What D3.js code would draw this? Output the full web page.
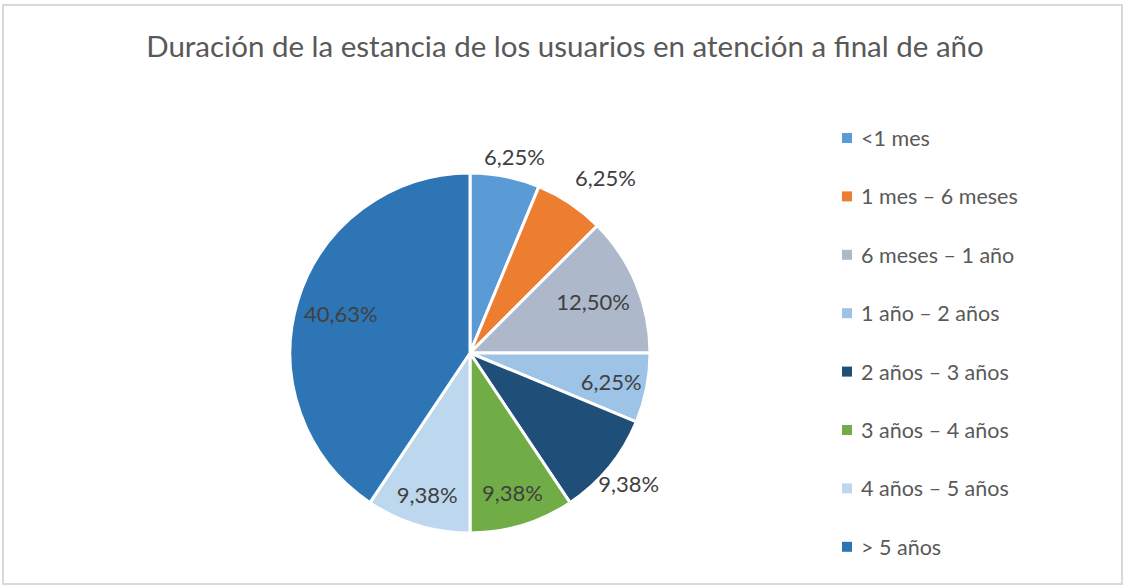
<!DOCTYPE html>
<html>
<head>
<meta charset="utf-8">
<script src="https://cdn.jsdelivr.net/npm/d3@7"></script>
<style>
    body { margin: 0; background: #ffffff; }
    text { font-family: Lato, "Open Sans", sans-serif; fill: #595959; }
</style>
</head>
<body>
<svg id="chart"></svg>
<script>
// data
const categories = ["<1 mes", "1 mes \u2013 6 meses", "6 meses \u2013 1 a\u00f1o", "1 a\u00f1o \u2013 2 a\u00f1os",
    "2 a\u00f1os \u2013 3 a\u00f1os", "3 a\u00f1os \u2013 4 a\u00f1os", "4 a\u00f1os \u2013 5 a\u00f1os", "> 5 a\u00f1os"];
const values = [6.25, 6.25, 12.50, 6.25, 9.38, 9.38, 9.38, 40.63];
const labels = ["6,25%", "6,25%", "12,50%", "6,25%", "9,38%", "9,38%", "9,38%", "40,63%"];
const colors = ["#5B9BD5", "#ED7D31", "#ADB9CA", "#9DC3E6", "#1F4E79", "#70AD47", "#BDD7EE", "#2E75B6"];

// label distance from centre, as a share of the radius (Excel "best fit")
const labelRadius = [1.12, 1.23, 0.74, 0.80, 1.14, 0.81, 0.82, 0.75];
// small angular nudge of the labels, degrees
const labelNudge = [1.5, 4, 0, 0, 0, 0, 0, 0];

const width = 1124, height = 586;
const cx = 470, cy = 353, radius = 180;

const svg = d3.select("#chart")
    .attr("width", width)
    .attr("height", height);

// chart frame
svg.append("rect")
    .attr("x", 3).attr("y", 5)
    .attr("width", 1119).attr("height", 579)
    .attr("fill", "#ffffff")
    .attr("stroke", "#D9D9D9")
    .attr("stroke-width", 2);

// title
svg.append("text")
    .attr("x", 565)
    .attr("y", 57)
    .attr("text-anchor", "middle")
    .style("font-size", "29.5px")
    .text("Duraci\u00f3n de la estancia de los usuarios en atenci\u00f3n a final de a\u00f1o");

const pie = d3.pie().sort(null).value(d => d);
const arcs = pie(values);
const arc = d3.arc().innerRadius(0).outerRadius(radius);

const g = svg.append("g").attr("transform", `translate(${cx},${cy})`);

g.selectAll("path")
    .data(arcs)
    .enter()
    .append("path")
    .attr("d", arc)
    .attr("fill", (d, i) => colors[i])
    .attr("stroke", "#ffffff")
    .attr("stroke-width", 3)
    .attr("stroke-linejoin", "round");

g.selectAll("text.label")
    .data(arcs)
    .enter()
    .append("text")
    .attr("class", "label")
    .attr("text-anchor", "middle")
    .attr("dominant-baseline", "central")
    .style("font-size", "22px")
    .style("fill", "#404040")
    .attr("transform", (d, i) => {
        const a = (d.startAngle + d.endAngle) / 2 + labelNudge[i] * Math.PI / 180;
        const r = radius * labelRadius[i];
        return `translate(${Math.sin(a) * r},${-Math.cos(a) * r})`;
    })
    .text((d, i) => labels[i]);

// legend
const legend = svg.append("g").attr("transform", "translate(842,138)");
const rows = legend.selectAll("g")
    .data(categories)
    .enter()
    .append("g")
    .attr("transform", (d, i) => `translate(0,${i * 58.4})`);

rows.append("rect")
    .attr("x", 0).attr("y", -5)
    .attr("width", 10).attr("height", 10)
    .attr("fill", (d, i) => colors[i]);

rows.append("text")
    .attr("x", 19)
    .attr("y", 0)
    .attr("dominant-baseline", "central")
    .style("font-size", "21.5px")
    .text(d => d);
</script>
</body>
</html>
